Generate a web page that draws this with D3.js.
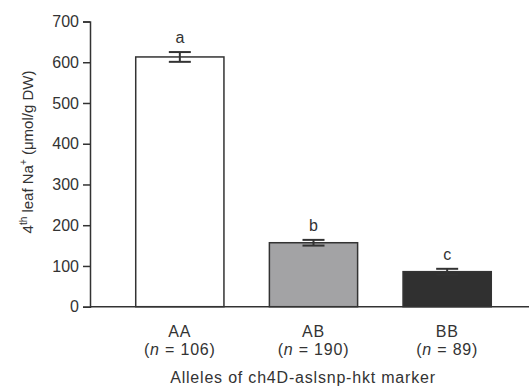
<!DOCTYPE html>
<html>
<head>
<meta charset="utf-8">
<script src="https://cdn.jsdelivr.net/npm/d3@7"></script>
<style>
  html, body { margin: 0; padding: 0; background: #fff; }
  svg { display: block; font-family: "Liberation Sans", Arial, sans-serif; }
</style>
</head>
<body>
<svg id="chart" width="529" height="392"></svg>
<script>
// Allele classes and their mean 4th-leaf Na+ content
const alleles = ["AA", "AB", "BB"];
const counts = [106, 190, 89];
const means = [613, 157, 86];
const errors = [12, 7, 7];
const groupLetters = ["a", "b", "c"];
const fills = ["#ffffff", "#a3a3a5", "#303030"];
const yTicks = [0, 100, 200, 300, 400, 500, 600, 700];

const ink = "#333";
const svg = d3.select("#chart");

const x = d3.scaleBand()
  .domain(alleles)
  .range([113, 514])
  .paddingInner(0.34)
  .paddingOuter(0.17);

const y = d3.scaleLinear().domain([0, 700]).range([306.7, 21.5]);

// bars
svg.selectAll("rect.bar")
  .data(alleles)
  .enter().append("rect")
  .attr("class", "bar")
  .attr("x", d => x(d))
  .attr("width", x.bandwidth())
  .attr("y", (d, i) => y(means[i]))
  .attr("height", (d, i) => y(0) - y(means[i]))
  .attr("fill", (d, i) => fills[i])
  .attr("stroke", ink)
  .attr("stroke-width", 1.5);

// error bars with significance letters
const capHalf = 11;
alleles.forEach((d, i) => {
  const cx = x(d) + x.bandwidth() / 2;
  const hi = y(means[i] + errors[i]);
  const lo = y(means[i] - errors[i]);
  const g = svg.append("g").attr("stroke", ink).attr("stroke-width", 2);
  g.append("line").attr("x1", cx).attr("x2", cx).attr("y1", hi).attr("y2", lo);
  g.append("line").attr("x1", cx - capHalf).attr("x2", cx + capHalf).attr("y1", hi).attr("y2", hi);
  g.append("line").attr("x1", cx - capHalf).attr("x2", cx + capHalf).attr("y1", lo).attr("y2", lo);
  svg.append("text")
    .attr("x", cx)
    .attr("y", hi - 9)
    .attr("text-anchor", "middle")
    .attr("font-size", 16)
    .attr("fill", ink)
    .text(groupLetters[i]);
});

// y axis
const yAxis = svg.append("g")
  .attr("transform", "translate(90,0)")
  .call(d3.axisLeft(y).tickValues(yTicks).tickSize(7).tickPadding(4));
yAxis.select(".domain").attr("stroke", ink).attr("stroke-width", 1.5);
yAxis.selectAll(".tick line").attr("stroke", ink).attr("stroke-width", 1.5);
yAxis.selectAll(".tick text").attr("font-size", 16).attr("fill", ink)
  .attr("font-family", "Liberation Sans, Arial, sans-serif");

// x axis baseline
svg.append("line")
  .attr("x1", 90).attr("x2", 529)
  .attr("y1", y(0)).attr("y2", y(0))
  .attr("stroke", ink).attr("stroke-width", 1.5);

// category labels
alleles.forEach((d, i) => {
  const cx = x(d) + x.bandwidth() / 2;
  svg.append("text")
    .attr("x", cx).attr("y", 337)
    .attr("text-anchor", "middle")
    .attr("font-size", 16).attr("letter-spacing", 0.8).attr("fill", ink)
    .text(d);
  const t = svg.append("text")
    .attr("x", cx).attr("y", 355)
    .attr("text-anchor", "middle")
    .attr("font-size", 16).attr("letter-spacing", 0.8).attr("fill", ink);
  t.append("tspan").text("(");
  t.append("tspan").attr("font-style", "italic").text("n");
  t.append("tspan").text(" = " + counts[i] + ")");
});

// x axis title
svg.append("text")
  .attr("x", 303).attr("y", 383)
  .attr("text-anchor", "middle")
  .attr("font-size", 16).attr("letter-spacing", 0.8).attr("fill", ink)
  .text("Alleles of ch4D-aslsnp-hkt marker");

// y axis title
const yt = svg.append("text")
  .attr("transform", "translate(33,152) rotate(-90)")
  .attr("text-anchor", "middle")
  .attr("font-size", 15).attr("fill", ink);
yt.append("tspan").text("4");
yt.append("tspan").attr("font-size", 10).attr("dy", -6).text("th");
yt.append("tspan").attr("dy", 6).text(" leaf Na");
yt.append("tspan").attr("font-size", 10).attr("dy", -6).text("+");
yt.append("tspan").attr("dy", 6).text(" (μmol/g DW)");
</script>
</body>
</html>
